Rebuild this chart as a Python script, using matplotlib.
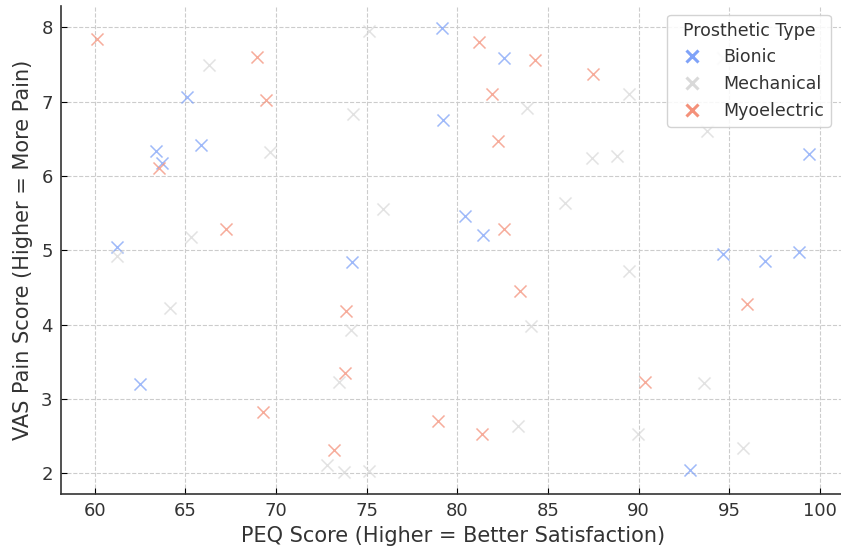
import matplotlib.pyplot as plt
from matplotlib.lines import Line2D

# PEQ vs VAS values, per prosthetic type
bionic_peq = [79.17, 82.55, 65.09, 63.35, 63.71, 65.88, 79.19, 99.42, 61.23,
              80.44, 81.44, 74.19, 62.48, 94.67, 96.97, 98.86, 92.84]
bionic_vas = [7.99, 7.59, 7.06, 6.34, 6.18, 6.42, 6.76, 6.30, 5.04,
              5.46, 5.21, 4.84, 3.20, 4.95, 4.86, 4.98, 2.05]

mech_peq = [75.15, 66.28, 74.22, 69.69, 75.88, 65.31, 61.23, 64.17, 74.15,
            73.45, 72.81, 73.73, 75.10, 83.87, 87.45, 88.83, 89.48, 85.95,
            93.76, 94.68, 89.48, 84.06, 93.61, 83.37, 89.99, 95.78]
mech_vas = [7.95, 7.50, 6.83, 6.32, 5.56, 5.18, 4.92, 4.22, 3.93,
            3.23, 2.11, 2.02, 2.03, 6.92, 6.24, 6.27, 7.10, 5.64,
            6.60, 7.59, 4.72, 3.98, 3.21, 2.64, 2.53, 2.34]

myo_peq = [60.10, 68.95, 69.45, 63.53, 67.26, 81.22, 84.29, 87.51, 81.91,
           82.27, 82.55, 73.88, 73.78, 69.28, 73.18, 78.93, 81.36, 83.43,
           90.36, 95.96]
myo_vas = [7.85, 7.60, 7.03, 6.11, 5.29, 7.80, 7.56, 7.38, 7.10,
           6.47, 5.29, 4.19, 3.35, 2.83, 2.32, 2.70, 2.53, 4.45,
           3.23, 4.28]

types = ['Bionic', 'Mechanical', 'Myoelectric']
colors = ['#7fa2f8', '#d9d9d9', '#f4917a']

fig = plt.figure(figsize=(8.41, 5.48), dpi=100)
# the reference is cropped: axes run past the right edge, title is off-frame
ax = fig.add_axes([61 / 841, 54 / 548, 784 / 841, 488 / 548])

for name, xs, ys, c in zip(types, [bionic_peq, mech_peq, myo_peq],
                           [bionic_vas, mech_vas, myo_vas], colors):
    ax.scatter(xs, ys, marker='x', s=75, color=c, alpha=0.75, linewidths=1.1, label=name)

ax.set_xlabel('PEQ Score (Higher = Better Satisfaction)', fontsize=15, color='#333333', labelpad=4)
ax.set_ylabel('VAS Pain Score (Higher = More Pain)', fontsize=15, color='#333333', labelpad=6)
ax.set_xticks([60, 65, 70, 75, 80, 85, 90, 95, 100])
ax.set_yticks([2, 3, 4, 5, 6, 7, 8])
ax.tick_params(direction='in', labelsize=13, labelcolor='#333333', length=4, pad=6)
ax.grid(True, linestyle='--', color='#cccccc', linewidth=0.8)
ax.set_axisbelow(True)
for s in ['top', 'right']:
    ax.spines[s].set_visible(False)
for s in ['left', 'bottom']:
    ax.spines[s].set_color('#333333')
    ax.spines[s].set_linewidth(1.2)

handles = [Line2D([], [], marker='x', linestyle='', markersize=8, markeredgewidth=2.2,
                  color=c, label=n) for n, c in zip(types, colors)]
leg = ax.legend(handles=handles, title='Prosthetic Type', fontsize=12.5, title_fontsize=12.5,
                loc='upper right', bbox_to_anchor=(0.993, 1.0), frameon=True,
                framealpha=0.85, edgecolor='#cccccc', handletextpad=0.8)
for t in leg.get_texts():
    t.set_color('#333333')
leg.get_title().set_color('#333333')

plt.savefig('out.png', dpi=100)
plt.close()
